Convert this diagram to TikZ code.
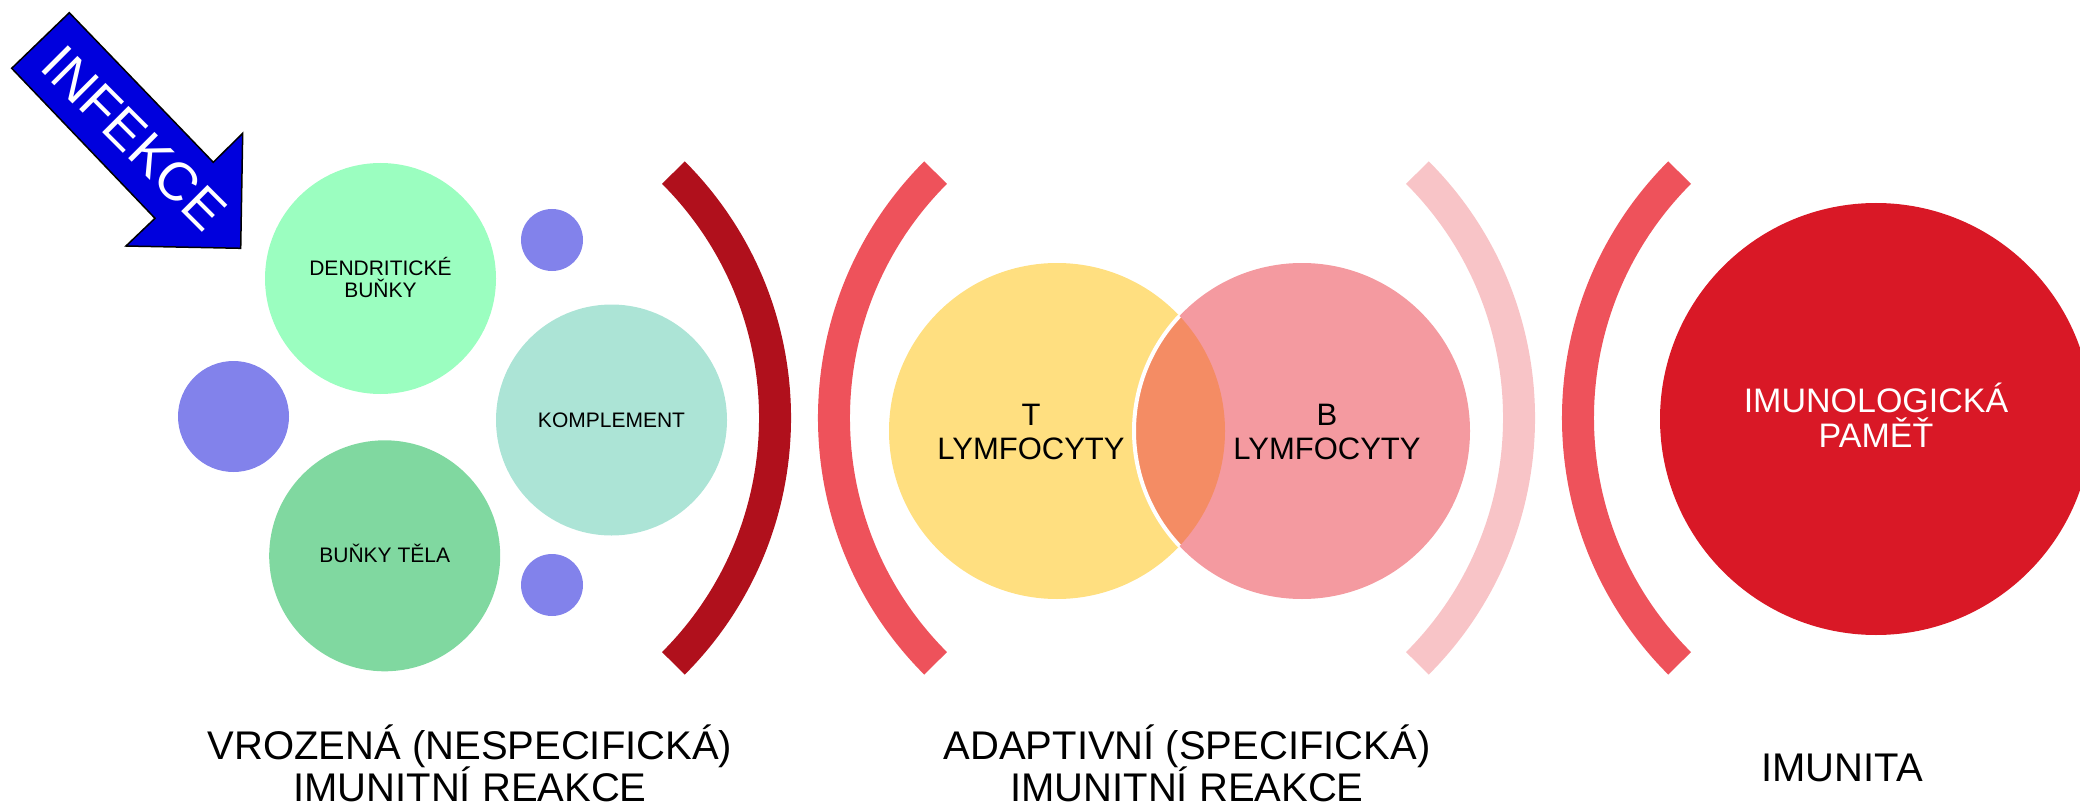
\documentclass[tikz,border=0pt]{standalone}
\usepackage{fontspec}
\setmainfont{Liberation Sans}
\definecolor{dendc}{RGB}{155,254,192}
\definecolor{bodyc}{RGB}{128,216,160}
\definecolor{komc}{RGB}{172,228,214}
\definecolor{dotc}{RGB}{130,130,235}
\definecolor{arrowc}{RGB}{0,0,221}
\definecolor{arcdark}{RGB}{176,16,28}
\definecolor{arcmid}{RGB}{238,82,91}
\definecolor{arclight}{RGB}{248,196,199}
\definecolor{tyel}{RGB}{255,223,128}
\definecolor{bpink}{RGB}{244,154,160}
\definecolor{lensc}{RGB}{244,140,100}
\definecolor{memc}{RGB}{217,24,38}
\begin{document}
\begin{tikzpicture}[x=1pt,y=-1pt,
  blob/.style={circle, inner sep=0pt, minimum size=#1},
  arcline/.style={line width=32pt, draw=#1},
  small/.style={font=\fontsize{21}{22}\selectfont, anchor=base, inner sep=0pt},
  mid/.style={font=\fontsize{31}{33}\selectfont, anchor=base, inner sep=0pt},
  memtxt/.style={font=\fontsize{34}{36}\selectfont, anchor=base, inner sep=0pt, text=white},
  big/.style={font=\fontsize{40}{42}\selectfont, anchor=base, inner sep=0pt}]
\useasboundingbox (0,0) rectangle (2080,805);

% infection arrow
\filldraw[fill=arrowc, draw=black, line width=1.5pt]
  (69.3,12.7) -- (11.7,68.3) -- (155,218.3) -- (126,246) -- (240.7,248.3)
  -- (242.7,133.3) -- (213.3,162.3) -- cycle;
\node[rotate=-45, text=white, font=\fontsize{54}{54}\selectfont, inner sep=0pt] (inf) at (134,138) {INFEKCE};

% innate cluster
\node[blob=231, fill=dendc] (dend) at (380.5,278.5) {};
\node[blob=231, fill=bodyc] (body) at (384.7,555.8) {};
\node[blob=231, fill=komc] (kom) at (611.5,420) {};
\node[blob=111, fill=dotc] (dotl) at (233.5,416.5) {};
\node[blob=62, fill=dotc] (dott) at (552,240) {};
\node[blob=62, fill=dotc] (dotb) at (552,585) {};
\node[small] (dend1) at (380.5,275) {DENDRITICKÉ};
\node[small] (dend2) at (380.5,297) {BUŇKY};
\node[small] (bodyt) at (384.7,562.5) {BUŇKY TĚLA};
\node[small] (komt) at (611.5,427.5) {KOMPLEMENT};

% arcs
\draw[arcline=arcdark] (673.4,172.6) arc[start angle=-45, end angle=45, radius=347];
\draw[arcline=arcmid] (935.6,172.6) arc[start angle=225, end angle=135, radius=347];
\draw[arcline=arclight] (1417.4,172.6) arc[start angle=-45, end angle=45, radius=347];
\draw[arcline=arcmid] (1679.6,172.6) arc[start angle=225, end angle=135, radius=347];

% lymphocytes
\node[blob=336, fill=tyel] (tc) at (1057,431) {};
\node[blob=336, fill=bpink] (bc) at (1302,431) {};
\begin{scope}
  \clip (1057,431) circle[radius=168];
  \fill[lensc] (1302,431) circle[radius=168];
  \draw[white, line width=4pt] (1302,431) circle[radius=168];
\end{scope}
\node[mid] (t1) at (1031,425.7) {T};
\node[mid] (t2) at (1031,459) {LYMFOCYTY};
\node[mid] (b1) at (1327,425.7) {B};
\node[mid] (b2) at (1327,459) {LYMFOCYTY};

% memory
\node[blob=432, fill=memc] (mem) at (1876,419) {};
\node[memtxt] (m1) at (1876,412.5) {IMUNOLOGICKÁ};
\node[memtxt] (m2) at (1876,447.5) {PAMĚŤ};

% bottom labels
\node[big] (l1a) at (470,759.5) {VROZENÁ (NESPECIFICKÁ)};
\node[big] (l1b) at (470,801) {IMUNITNÍ REAKCE};
\node[big] (l2a) at (1187,759.5) {ADAPTIVNÍ (SPECIFICKÁ)};
\node[big] (l2b) at (1187,801) {IMUNITNÍ REAKCE};
\node[big] (l3) at (1842,781) {IMUNITA};
\end{tikzpicture}
\end{document}
